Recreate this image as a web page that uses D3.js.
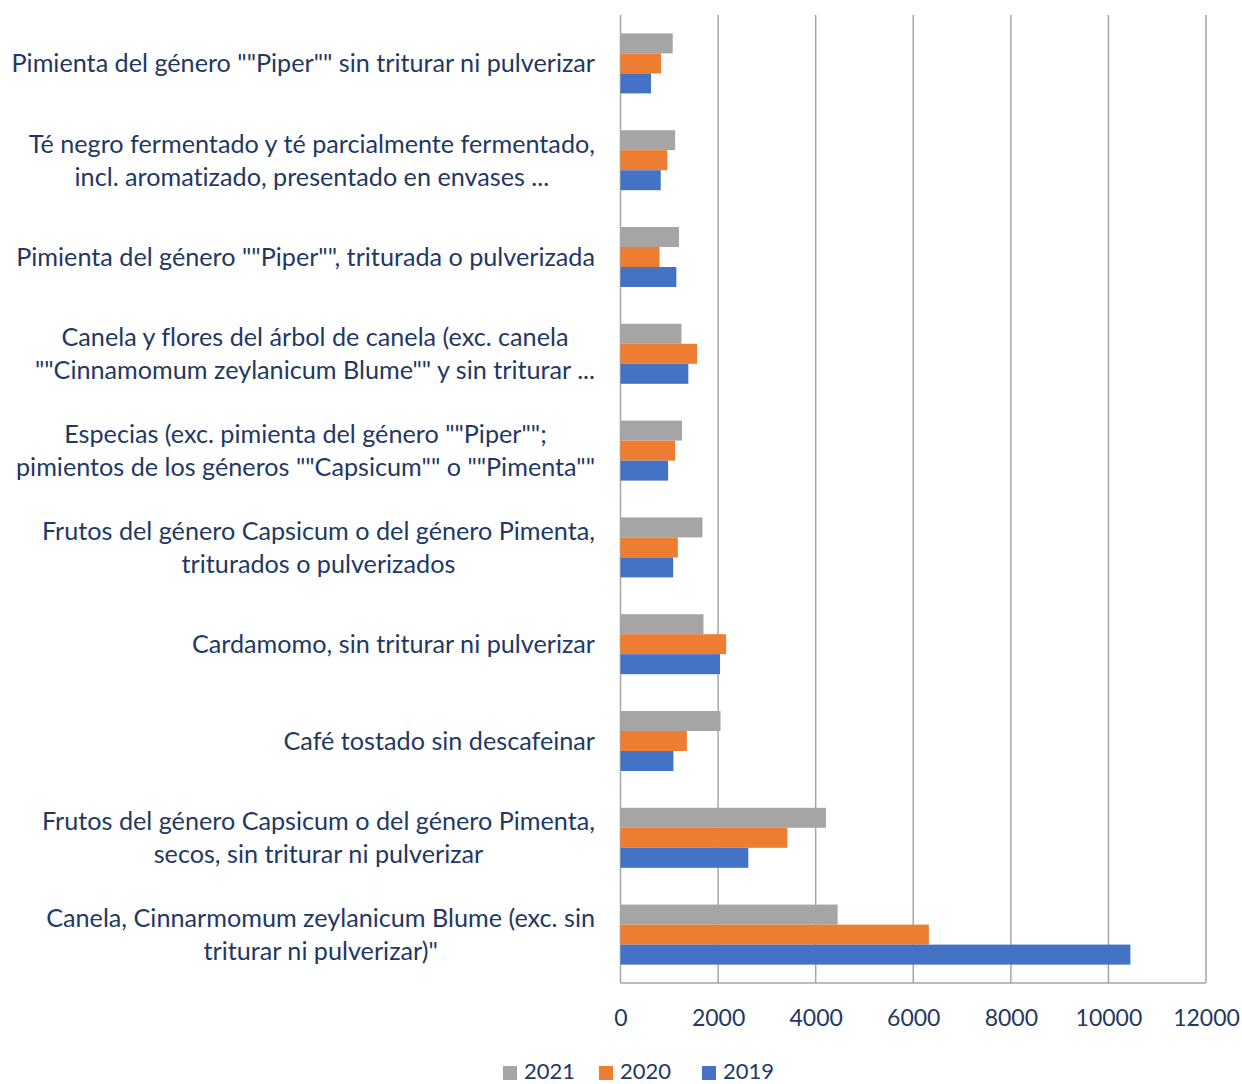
<!DOCTYPE html>
<html>
<head>
<meta charset="utf-8">
<script src="https://cdn.jsdelivr.net/npm/d3@7"></script>
<style>
  html, body { margin: 0; padding: 0; background: #ffffff; }
  svg { display: block; }
  text { font-family: Lato, "Open Sans", sans-serif; fill: #1F3864; font-variant-ligatures: none; }
</style>
</head>
<body>
<svg id="chart" width="1242" height="1084"></svg>
<script>
// Product categories, top to bottom; each entry holds the lines of its label
const categories = [
  ['Pimienta del género ""Piper"" sin triturar ni pulverizar'],
  ['Té negro fermentado y té parcialmente fermentado,', 'incl. aromatizado, presentado en envases ...'],
  ['Pimienta del género ""Piper"", triturada o pulverizada'],
  ['Canela y flores del árbol de canela (exc. canela', '""Cinnamomum zeylanicum Blume"" y sin triturar ...'],
  ['Especias (exc. pimienta del género ""Piper"";', 'pimientos de los géneros ""Capsicum"" o ""Pimenta""'],
  ['Frutos del género Capsicum o del género Pimenta,', 'triturados o pulverizados'],
  ['Cardamomo, sin triturar ni pulverizar'],
  ['Café tostado sin descafeinar'],
  ['Frutos del género Capsicum o del género Pimenta,', 'secos, sin triturar ni pulverizar'],
  ['Canela, Cinnarmomum zeylanicum Blume (exc. sin', 'triturar ni pulverizar)"']
];

const years = ['2021', '2020', '2019'];
const values2021 = [1070, 1120, 1200, 1250, 1260, 1680, 1700, 2050, 4210, 4450];
const values2020 = [830, 960, 800, 1570, 1120, 1175, 2165, 1360, 3420, 6320];
const values2019 = [625, 825, 1145, 1390, 975, 1080, 2040, 1085, 2620, 10450];
const xTicks = [0, 2000, 4000, 6000, 8000, 10000, 12000];

const colors = { '2021': '#A5A5A5', '2020': '#ED7D31', '2019': '#4472C4' };
const seriesValues = { '2021': values2021, '2020': values2020, '2019': values2019 };

const svg = d3.select('#chart');
const plot = { left: 620.5, right: 1206, top: 15, bottom: 983 };

const x = d3.scaleLinear().domain([0, 12000]).range([plot.left, plot.right]);
const keys = categories.map((c, i) => i);
const y = d3.scaleBand().domain(keys).range([plot.top, plot.bottom])
  .paddingInner(0.38).paddingOuter(0.19);
const ySub = d3.scaleBand().domain(years).range([0, y.bandwidth()]);

// Vertical gridlines
svg.append('g').selectAll('line').data(xTicks).join('line')
  .attr('x1', d => x(d)).attr('x2', d => x(d))
  .attr('y1', plot.top).attr('y2', plot.bottom)
  .attr('stroke', '#A6A6A6').attr('stroke-width', 1.5);

// Bars
const rows = keys.map(i => ({ i, vals: years.map(yr => ({ yr, v: seriesValues[yr][i] })) }));
const groups = svg.append('g').selectAll('g').data(rows).join('g')
  .attr('transform', d => `translate(0,${y(d.i)})`);
groups.selectAll('rect').data(d => d.vals).join('rect')
  .attr('x', x(0))
  .attr('y', d => ySub(d.yr))
  .attr('width', d => x(d.v) - x(0))
  .attr('height', ySub.bandwidth())
  .attr('fill', d => colors[d.yr]);

// Baseline along the bottom of the plot
svg.append('line')
  .attr('x1', plot.left).attr('x2', plot.right)
  .attr('y1', plot.bottom).attr('y2', plot.bottom)
  .attr('stroke', '#A6A6A6').attr('stroke-width', 1.5);

// Value axis labels
const xAxis = d3.axisBottom(x).tickValues(xTicks).tickSize(0).tickPadding(0)
  .tickFormat(d3.format('d'));
const axisG = svg.append('g').attr('transform', `translate(0,${plot.bottom + 35})`).call(xAxis);
axisG.select('.domain').remove();
axisG.selectAll('text')
  .attr('dy', '0.35em').attr('y', 0)
  .style('font-size', '23px').style('font-family', 'Lato, sans-serif').attr('fill', '#1F3864');

// Category labels: each block right-aligned to the plot, lines centred within it
const labelRight = 595;
const lineH = 33;
const labelG = svg.append('g');
categories.forEach((lines, i) => {
  const cy = y(i) + y.bandwidth() / 2;
  const texts = lines.map((t, j) => labelG.append('text')
    .attr('text-anchor', 'middle')
    .attr('dy', '0.35em')
    .attr('y', cy + (j - (lines.length - 1) / 2) * lineH)
    .style('font-size', '25.2px')
    .text(t));
  const maxW = d3.max(texts, t => t.node().getComputedTextLength());
  texts.forEach(t => t.attr('x', labelRight - maxW / 2));
});

// Legend
const legendX = [503, 599, 702];
const legend = svg.append('g');
years.forEach((yr, i) => {
  legend.append('rect')
    .attr('x', legendX[i]).attr('y', 1066)
    .attr('width', 14).attr('height', 14)
    .attr('fill', colors[yr]);
  legend.append('text')
    .attr('x', legendX[i] + 21).attr('y', 1071)
    .attr('dy', '0.35em')
    .style('font-size', '22px')
    .text(yr);
});
</script>
</body>
</html>
